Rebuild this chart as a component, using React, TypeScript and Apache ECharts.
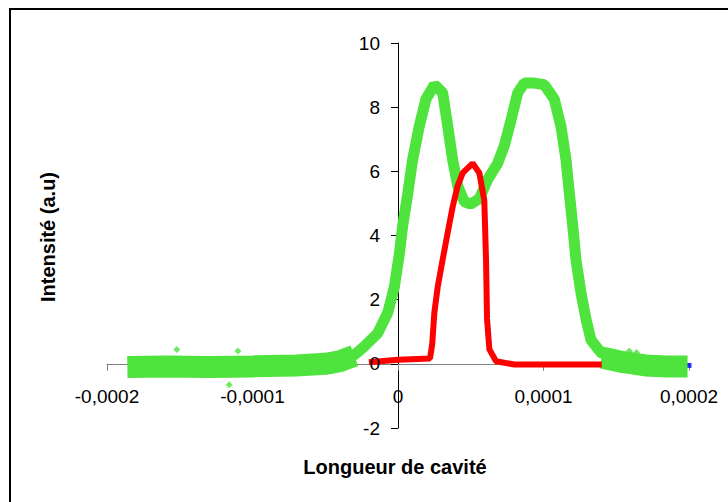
import React, { useEffect, useRef } from "react";
import * as echarts from "echarts";

// Axis ticks
const xTicks = { min: -0.0002, max: 0.0002, interval: 0.0001 };
const xTickValues = [-0.0002, -0.0001, 0, 0.0001, 0.0002];
const yTicks = { min: -2, max: 10, interval: 2 };
const yTickValues = [-2, 0, 2, 4, 6, 8, 10];

// Green series (noisy baseline parts and main double-peaked curve)
const greenBaseLeft: number[][] = [
  [-0.000186, -0.1], [-0.00016, -0.08], [-0.00013, -0.1], [-0.0001, -0.08],
  [-0.00007, -0.05], [-0.00005, 0.0], [-0.00004, 0.08], [-0.00003, 0.25],
];
const greenMain: number[][] = [
  [-0.00004, 0.1], [-0.00003, 0.28], [-0.000023, 0.55], [-0.000014, 0.95],
  [-0.000007, 1.6], [-0.0000025, 2.4], [0.000001, 3.45], [0.0000032, 4.3],
  [0.0000067, 5.3], [0.00001, 6.35], [0.0000146, 7.4], [0.0000192, 8.25],
  [0.000025, 8.7], [0.0000307, 8.45], [0.0000342, 7.4], [0.0000376, 6.35],
  [0.000041, 5.55], [0.0000456, 5.05], [0.00005, 4.98], [0.0000559, 5.15],
  [0.0000617, 5.75], [0.0000685, 6.25], [0.0000731, 6.8], [0.0000777, 7.6],
  [0.0000823, 8.45], [0.0000868, 8.75], [0.0000937, 8.75], [0.0001005, 8.7],
  [0.0001074, 8.25], [0.000112, 7.4], [0.0001155, 6.35], [0.0001177, 5.35],
  [0.0001201, 4.3], [0.0001223, 3.25], [0.0001258, 2.2], [0.0001292, 1.4],
  [0.0001326, 0.75], [0.0001395, 0.35], [0.000153, 0.1],
];
const greenBaseRight: number[][] = [
  [0.00014, 0.2], [0.000155, 0.05], [0.00017, -0.05], [0.000185, -0.08], [0.000199, -0.08],
];
const greenOutliers: number[][] = [
  [-0.000152, 0.45], [-0.00011, 0.4], [-0.000116, -0.65], [0.000159, 0.4], [0.000164, 0.35],
];

// Red series
const redCurve: number[][] = [
  [-0.00002, 0.05], [0, 0.13], [0.000022, 0.17], [0.0000235, 0.6], [0.000025, 1.6],
  [0.0000273, 2.4], [0.0000307, 3.25], [0.0000342, 4.1], [0.0000376, 4.9],
  [0.000041, 5.55], [0.0000445, 5.95], [0.0000513, 6.25], [0.0000559, 5.95],
  [0.0000593, 5.1], [0.0000605, 3.25], [0.0000612, 1.4], [0.0000628, 0.45],
  [0.0000674, 0.08], [0.00008, -0.02], [0.00014, -0.02],
];

// Blue series (only its end is visible)
const blueCurve: number[][] = [[0.0002, -0.05]];

const GREEN = "#4fe33e";
const RED = "#ff0000";
const FONT = '"Liberation Sans", Arial, sans-serif';

const fmtX = (v: number) => (Math.abs(v) < 1e-12 ? "0" : v.toFixed(4).replace(".", ","));

export default function App() {
  const ref = useRef<HTMLDivElement>(null);
  useEffect(() => {
    if (!ref.current) return;
    const chart = echarts.init(ref.current, undefined, { renderer: "svg" });
    const lineSeries = (data: number[][], color: string, width: number, z: number) => ({
      type: "line",
      data,
      showSymbol: false,
      symbol: "none",
      lineStyle: { color, width },
      silent: true,
      z,
    });
    const staticGraphics: any[] = [
      {
        type: "rect",
        shape: { x: 10, y: 9, width: 740, height: 520 },
        style: { fill: "none", stroke: "#000", lineWidth: 2 },
        silent: true,
        z: -1,
      },
      {
        type: "text",
        x: 395,
        y: 467,
        style: {
          text: "Longueur de cavité",
          font: `bold 20px ${FONT}`,
          fill: "#000",
          align: "center",
          verticalAlign: "middle",
        },
      },
      {
        type: "text",
        x: 48,
        y: 237,
        rotation: Math.PI / 2,
        style: {
          text: "Intensité (a.u)",
          font: `bold 20px ${FONT}`,
          fill: "#000",
          align: "center",
          verticalAlign: "middle",
        },
      },
    ];
    chart.setOption({
      animation: false,
      grid: { left: 107, right: 39, top: 43, bottom: 74 },
      xAxis: {
        type: "value",
        min: xTicks.min,
        max: xTicks.max,
        interval: xTicks.interval,
        axisLine: { onZero: true, lineStyle: { color: "#808080", width: 1 } },
        axisTick: { show: true, length: 7, lineStyle: { color: "#808080" } },
        splitLine: { show: false },
        axisLabel: { show: false },
      },
      yAxis: {
        type: "value",
        min: yTicks.min,
        max: yTicks.max,
        interval: yTicks.interval,
        axisLine: { onZero: true, lineStyle: { color: "#000", width: 1 } },
        axisTick: { show: true, length: 7, lineStyle: { color: "#000" } },
        splitLine: { show: false },
        axisLabel: { show: false },
      },
      series: [
        {
          type: "scatter",
          data: blueCurve,
          symbol: "rect",
          symbolSize: 5,
          itemStyle: { color: "#0000ff" },
          silent: true,
          z: 1,
        },
        lineSeries(greenBaseLeft, GREEN, 22, 2),
        lineSeries(greenBaseRight, GREEN, 22, 2),
        lineSeries(greenMain, GREEN, 11, 2),
        {
          type: "scatter",
          data: greenOutliers,
          symbol: "diamond",
          symbolSize: 7,
          itemStyle: { color: GREEN },
          silent: true,
          z: 2,
        },
        lineSeries(redCurve, RED, 6, 3),
      ],
      graphic: staticGraphics,
    });
    // tick labels placed next to the zero-crossing axis lines, through the axes' scales
    const y0 = chart.convertToPixel({ yAxisIndex: 0 }, 0) as number;
    const x0 = chart.convertToPixel({ xAxisIndex: 0 }, 0) as number;
    const xLabels = xTickValues.map((v) => ({
      type: "text",
      x: chart.convertToPixel({ xAxisIndex: 0 }, v) as number,
      y: y0 + 33,
      style: {
        text: fmtX(v),
        font: `19px ${FONT}`,
        fill: "#000",
        align: "center",
        verticalAlign: "middle",
      },
      z: 10,
    }));
    const yLabels = yTickValues.map((v) => ({
      type: "text",
      x: x0 - 18,
      y: chart.convertToPixel({ yAxisIndex: 0 }, v) as number,
      style: {
        text: String(v),
        font: `19px ${FONT}`,
        fill: "#000",
        align: "right",
        verticalAlign: "middle",
      },
      z: 10,
    }));
    chart.setOption({ graphic: [...staticGraphics, ...xLabels, ...yLabels] });
    return () => chart.dispose();
  }, []);
  return (
    <div
      ref={ref}
      style={{ position: "absolute", left: 0, top: 0, width: 728, height: 502, background: "#fff" }}
    />
  );
}
